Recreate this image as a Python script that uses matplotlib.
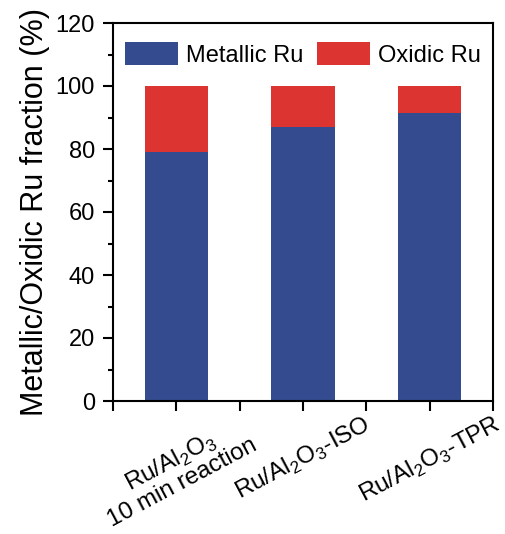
import numpy as np
import matplotlib
matplotlib.use('Agg')
import matplotlib.pyplot as plt
from matplotlib.ticker import MultipleLocator, FixedLocator

plt.rcParams['font.family'] = ['Liberation Sans', 'DejaVu Sans']
plt.rcParams['mathtext.fontset'] = 'custom'
plt.rcParams['mathtext.rm'] = 'Liberation Sans'

# Ru fraction data (%)
samples = ['Ru/Al$_2$O$_3$\n10 min reaction', 'Ru/Al$_2$O$_3$-ISO', 'Ru/Al$_2$O$_3$-TPR']
metallic = [79.1, 87.1, 91.4]
oxidic = [20.9, 12.9, 8.6]

blue = '#354B8F'
red = '#DC3430'

fig = plt.figure(figsize=(5.06, 5.34), dpi=100)
ax = fig.add_axes([113 / 506, 1 - 401 / 534, 380 / 506, 378 / 534])

x = np.arange(1, len(samples) + 1)
ax.bar(x, metallic, width=0.5, color=blue, label='Metallic Ru')
ax.bar(x, oxidic, width=0.5, bottom=metallic, color=red, label='Oxidic Ru')

ax.set_xlim(0.5, 3.5)
ax.set_ylim(0, 120)
ax.yaxis.set_major_locator(MultipleLocator(20))
ax.yaxis.set_minor_locator(MultipleLocator(10))
ax.set_xticks(x)
ax.xaxis.set_minor_locator(FixedLocator([0.5, 1.5, 2.5, 3.5]))
ax.set_xticklabels(samples, rotation=28, ha='center', multialignment='center',
                   linespacing=1.0, fontsize=17.5)
ax.tick_params(axis='y', labelsize=17, pad=6)
ax.tick_params(axis='x', pad=1)
ax.tick_params(which='major', direction='out', length=7, width=1.5)
ax.tick_params(axis='y', which='minor', direction='out', length=3.6, width=1.5)
ax.tick_params(axis='x', which='minor', direction='out', length=7, width=1.5)
for s in ax.spines.values():
    s.set_linewidth(1.5)

ax.set_ylabel('Metallic/Oxidic Ru fraction (%)', fontsize=22, labelpad=4)

ax.legend(loc='upper center', ncol=2, frameon=False, fontsize=17,
          handlelength=2.25, handleheight=1.15, columnspacing=0.6,
          handletextpad=0.34, borderaxespad=0.4)

fig.savefig('out.png', dpi=100)
